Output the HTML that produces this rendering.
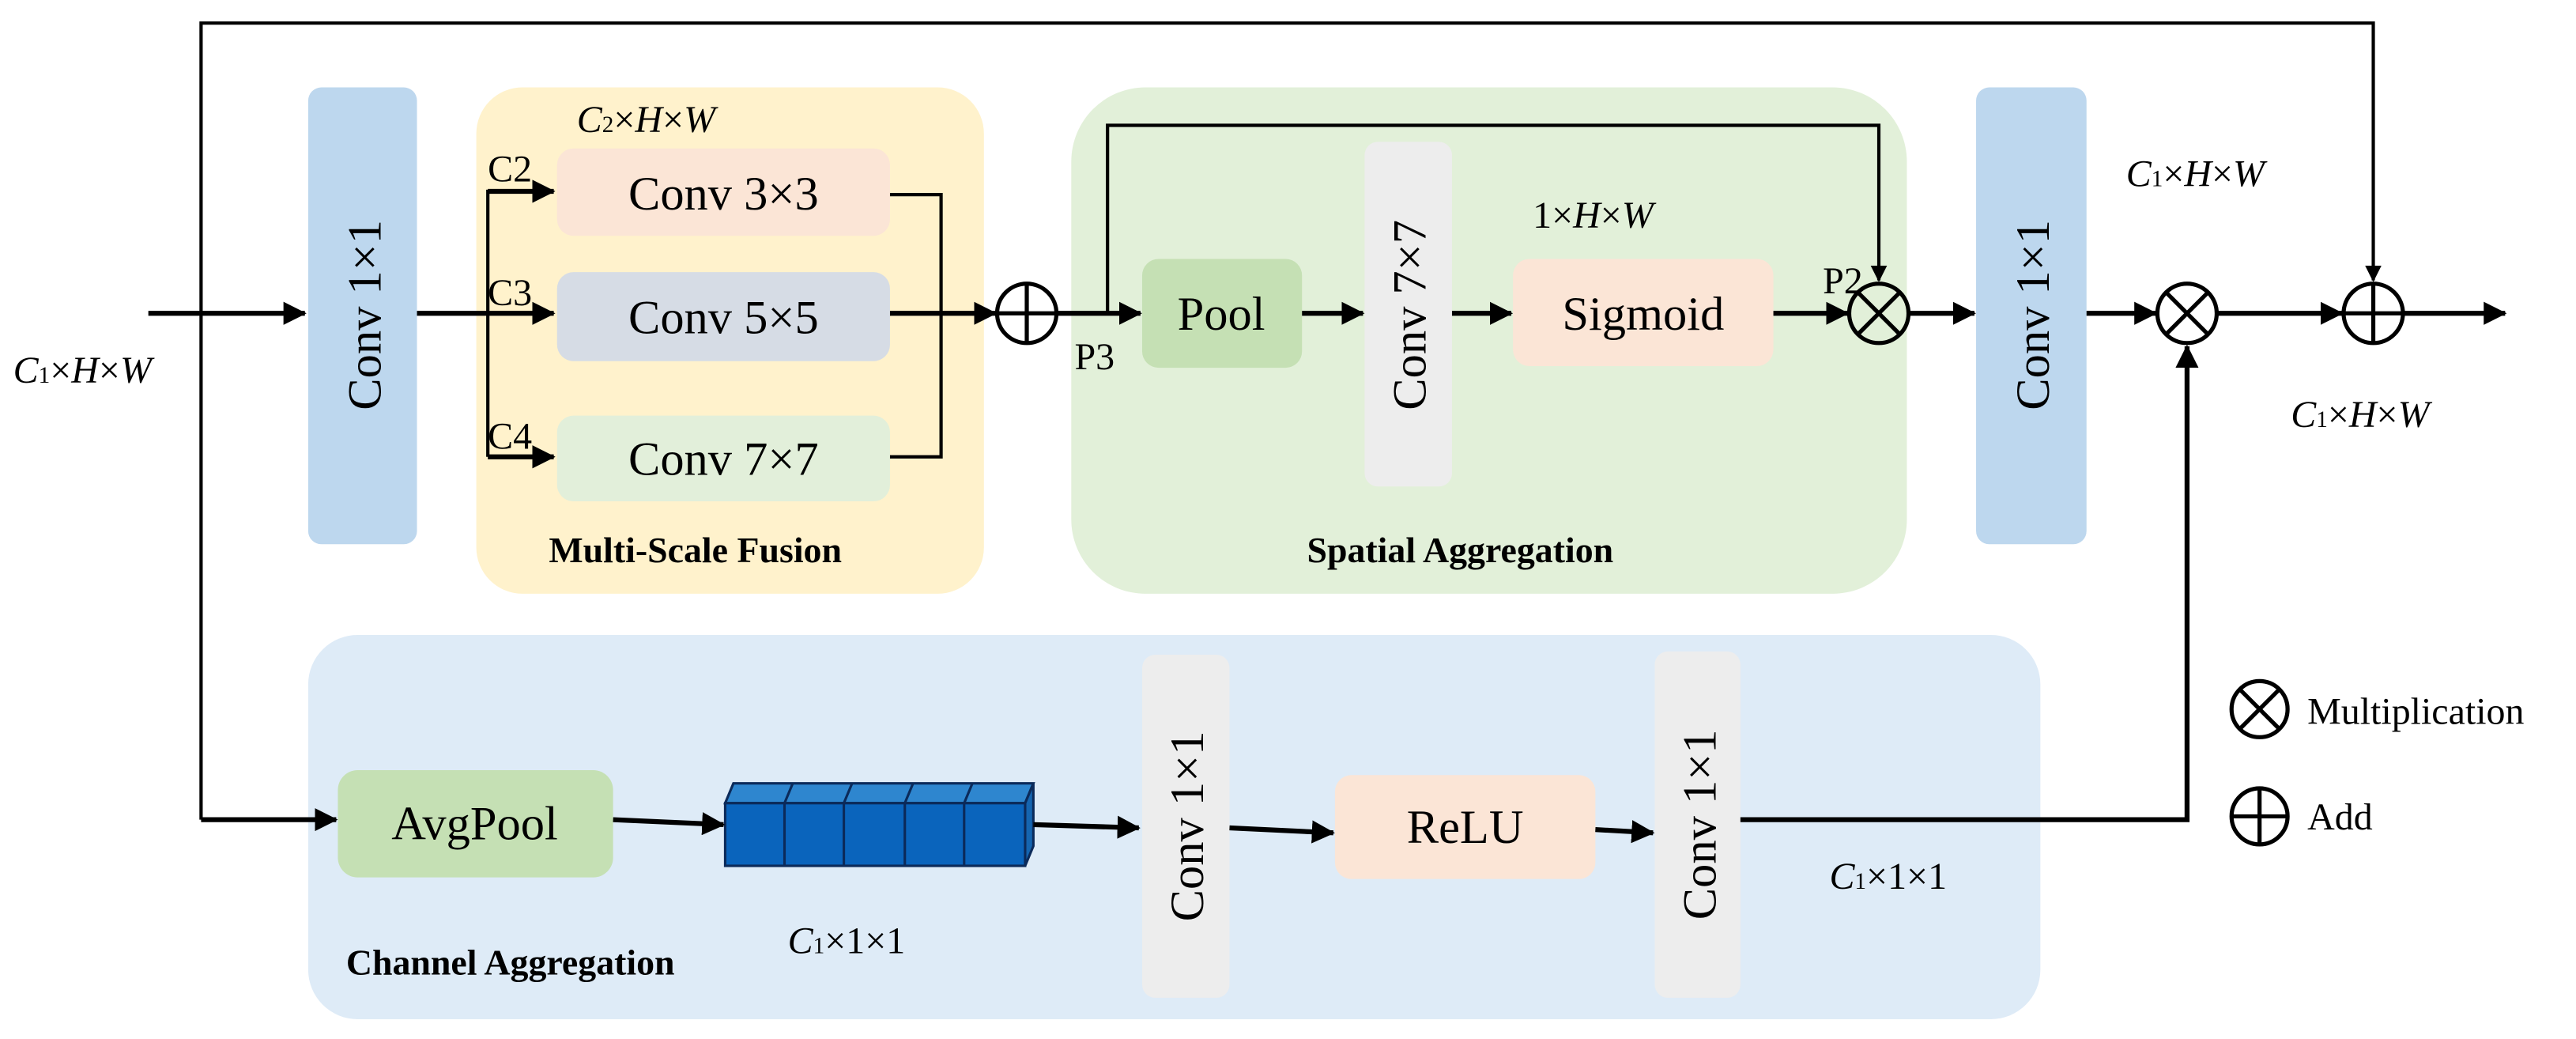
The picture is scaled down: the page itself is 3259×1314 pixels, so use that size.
<!DOCTYPE html>
<html><head><meta charset="utf-8"><style>
html,body{margin:0;padding:0;background:#fff;}
svg{display:block;}
svg text{font-family:"Liberation Serif","Times New Roman",serif !important;fill:#000;}
</style></head><body>
<svg width="3259" height="1314" viewBox="0 0 1563 630" preserveAspectRatio="none" font-family="Liberation Serif, serif">
<defs>
<marker id="a" markerWidth="10" markerHeight="10" refX="9" refY="5" orient="auto" markerUnits="userSpaceOnUse"><path d="M0,0 L10,5 L0,10 z" fill="#000"/></marker>
<marker id="b" markerWidth="14" markerHeight="14" refX="13" refY="7" orient="auto" markerUnits="userSpaceOnUse"><path d="M0,0 L14,7 L0,14 z" fill="#000"/></marker>
</defs>
<rect x="289" y="53" width="308" height="307" rx="28" fill="#fff2cc"/>
<rect x="650" y="53" width="507" height="307" rx="45" fill="#e2f0d9"/>
<rect x="187" y="385" width="1051" height="233" rx="30" fill="#deebf7"/>
<rect x="187" y="53" width="66" height="277" rx="8" fill="#bdd7ee"/>
<rect x="1199" y="53" width="67" height="277" rx="8" fill="#bdd7ee"/>
<rect x="338" y="90" width="202" height="53" rx="10" fill="#fbe5d6"/>
<rect x="338" y="165" width="202" height="54" rx="10" fill="#d6dce5"/>
<rect x="338" y="252" width="202" height="52" rx="10" fill="#e2efda"/>
<rect x="693" y="157" width="97" height="66" rx="10" fill="#c5e0b4"/>
<rect x="828" y="86" width="53" height="209" rx="8" fill="#ededed"/>
<rect x="918" y="157" width="158" height="65" rx="10" fill="#fbe5d6"/>
<rect x="205" y="467" width="167" height="65" rx="12" fill="#c5e0b4"/>
<rect x="693" y="397" width="53" height="208" rx="8" fill="#ededed"/>
<rect x="810" y="470" width="158" height="63" rx="10" fill="#fbe5d6"/>
<rect x="1004" y="395" width="52" height="210" rx="8" fill="#ededed"/>
<g stroke="#0b2a5a" stroke-width="1.5">
<polygon points="440,487 445,475 627,475 622,487" fill="#2e86cf"/>
<polygon points="622,487 627,475 627,513 622,525" fill="#1565b0"/>
<rect x="440" y="487" width="182" height="38" fill="#0a64bc"/>
<line x1="476" y1="487" x2="476" y2="525"/><line x1="512" y1="487" x2="512" y2="525"/><line x1="549" y1="487" x2="549" y2="525"/><line x1="585" y1="487" x2="585" y2="525"/>
<line x1="476" y1="487" x2="481" y2="475"/><line x1="512" y1="487" x2="517" y2="475"/><line x1="549" y1="487" x2="554" y2="475"/><line x1="585" y1="487" x2="590" y2="475"/>
</g>
<g stroke="#000" stroke-width="2" fill="none">
<polyline points="122,497 122,14 1440,14 1440,170" marker-end="url(#a)"/>
<line x1="90" y1="190" x2="185" y2="190" stroke-width="3" marker-end="url(#b)"/>
<line x1="253" y1="190" x2="336" y2="190" stroke-width="3" marker-end="url(#b)"/>
<line x1="296" y1="115" x2="296" y2="277"/>
<line x1="296" y1="116" x2="336" y2="116" stroke-width="3" marker-end="url(#b)"/>
<line x1="296" y1="277" x2="336" y2="277" stroke-width="3" marker-end="url(#b)"/>
<polyline points="540,118 571,118 571,277 540,277"/>
<line x1="540" y1="190" x2="604" y2="190" stroke-width="3" marker-end="url(#b)"/>
<line x1="641" y1="190" x2="692" y2="190" stroke-width="3" marker-end="url(#b)"/>
<polyline points="672,190 672,76 1140,76 1140,170" marker-end="url(#a)"/>
<line x1="790" y1="190" x2="827" y2="190" stroke-width="3" marker-end="url(#b)"/>
<line x1="881" y1="190" x2="917" y2="190" stroke-width="3" marker-end="url(#b)"/>
<line x1="1076" y1="190" x2="1121" y2="190" stroke-width="3" marker-end="url(#b)"/>
<line x1="1158" y1="190" x2="1198" y2="190" stroke-width="3" marker-end="url(#b)"/>
<line x1="1266" y1="190" x2="1308" y2="190" stroke-width="3" marker-end="url(#b)"/>
<line x1="1345" y1="190" x2="1421" y2="190" stroke-width="3" marker-end="url(#b)"/>
<line x1="1458" y1="190" x2="1520" y2="190" stroke-width="3" marker-end="url(#b)"/>
<line x1="122" y1="497" x2="204" y2="497" stroke-width="3" marker-end="url(#b)"/>
<line x1="372" y1="497" x2="439" y2="500" stroke-width="3" marker-end="url(#b)"/>
<line x1="627" y1="500" x2="691" y2="502" stroke-width="3" marker-end="url(#b)"/>
<line x1="746" y1="502" x2="809" y2="505" stroke-width="3" marker-end="url(#b)"/>
<line x1="968" y1="503" x2="1003" y2="505" stroke-width="3" marker-end="url(#b)"/>
<polyline points="1056,497 1327,497 1327,210" stroke-width="3"/>
<line x1="1327" y1="240" x2="1327" y2="210" marker-end="url(#b)"/>
<g stroke-width="2.5">
<circle cx="623" cy="190" r="18"/><line x1="605" y1="190" x2="641" y2="190"/><line x1="623" y1="172" x2="623" y2="208"/>
<circle cx="1440" cy="190" r="18"/><line x1="1422" y1="190" x2="1458" y2="190"/><line x1="1440" y1="172" x2="1440" y2="208"/>
<circle cx="1140" cy="190" r="18"/><line x1="1127" y1="177" x2="1153" y2="203"/><line x1="1153" y1="177" x2="1127" y2="203"/>
<circle cx="1327" cy="190" r="18"/><line x1="1314" y1="177" x2="1340" y2="203"/><line x1="1340" y1="177" x2="1314" y2="203"/>
<circle cx="1371" cy="430" r="17"/><line x1="1359" y1="418" x2="1383" y2="442"/><line x1="1383" y1="418" x2="1359" y2="442"/>
<circle cx="1371" cy="495" r="17"/><line x1="1354" y1="495" x2="1388" y2="495"/><line x1="1371" y1="478" x2="1371" y2="512"/>
</g>
</g>
<g font-size="29" text-anchor="middle" font-family="Liberation Serif, serif">
<text x="439" y="127">Conv 3×3</text>
<text x="439" y="202">Conv 5×5</text>
<text x="439" y="288">Conv 7×7</text>
<text x="741" y="200">Pool</text>
<text x="997" y="200">Sigmoid</text>
<text x="288" y="509">AvgPool</text>
<text x="889" y="511">ReLU</text>
<text transform="translate(231,191) rotate(-90)">Conv 1×1</text>
<text transform="translate(1243,191) rotate(-90)">Conv 1×1</text>
<text transform="translate(865,191) rotate(-90)">Conv 7×7</text>
<text transform="translate(730,501) rotate(-90)">Conv 1×1</text>
<text transform="translate(1041,500) rotate(-90)">Conv 1×1</text>
</g>
<g font-size="22" font-weight="bold" font-family="Liberation Serif, serif">
<text x="333" y="341">Multi-Scale Fusion</text>
<text x="793" y="341">Spatial Aggregation</text>
<text x="210" y="591">Channel Aggregation</text>
</g>
<g font-size="23" font-family="Liberation Serif, serif">
<text x="296" y="110">C2</text>
<text x="296" y="185">C3</text>
<text x="296" y="272">C4</text>
<text x="652" y="224">P3</text>
<text x="1106" y="178">P2</text>
<text x="1400" y="439">Multiplication</text>
<text x="1400" y="503">Add</text>
<text x="350" y="80"><tspan font-style="italic">C</tspan><tspan font-size="14">2</tspan>×<tspan font-style="italic">H</tspan>×<tspan font-style="italic">W</tspan></text>
<text x="8" y="232"><tspan font-style="italic">C</tspan><tspan font-size="14">1</tspan>×<tspan font-style="italic">H</tspan>×<tspan font-style="italic">W</tspan></text>
<text x="930" y="138">1×<tspan font-style="italic">H</tspan>×<tspan font-style="italic">W</tspan></text>
<text x="1290" y="113"><tspan font-style="italic">C</tspan><tspan font-size="14">1</tspan>×<tspan font-style="italic">H</tspan>×<tspan font-style="italic">W</tspan></text>
<text x="1390" y="259"><tspan font-style="italic">C</tspan><tspan font-size="14">1</tspan>×<tspan font-style="italic">H</tspan>×<tspan font-style="italic">W</tspan></text>
<text x="1110" y="539"><tspan font-style="italic">C</tspan><tspan font-size="14">1</tspan>×1×1</text>
<text x="478" y="578"><tspan font-style="italic">C</tspan><tspan font-size="14">1</tspan>×1×1</text>
</g>
</svg>
</body></html>
